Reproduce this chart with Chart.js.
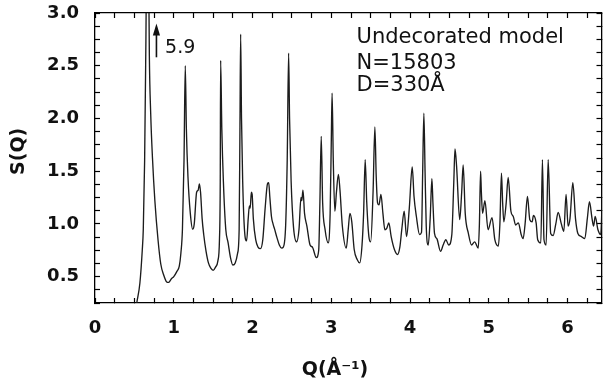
<!DOCTYPE html>
<html>
<head>
<meta charset="utf-8">
<script src="https://cdn.jsdelivr.net/npm/chart.js@4.4.1/dist/chart.umd.min.js"></script>
<style>
  html, body { margin: 0; padding: 0; background: #ffffff; }
  #wrap { width: 603px; height: 385px; }
</style>
</head>
<body>
<div id="wrap"><canvas id="c" width="603" height="385"></canvas></div>
<script>
// ---- Data ----
const qValues = [
  0.53, 0.57, 0.60, 0.613, 0.63, 0.643, 0.655, 0.665, 0.675, 0.69, 0.707, 0.73, 0.76, 0.80, 0.835, 0.87, 0.91, 0.935, 0.97, 1.00,
  1.04, 1.07, 1.09, 1.11, 1.13, 1.146, 1.16, 1.18, 1.21, 1.24, 1.26, 1.29, 1.31, 1.325, 1.34, 1.36, 1.38, 1.41, 1.44, 1.47,
  1.50, 1.53, 1.56, 1.58, 1.59, 1.595, 1.61, 1.63, 1.66, 1.69, 1.72, 1.75, 1.78, 1.81, 1.83, 1.84, 1.849, 1.86, 1.875, 1.90,
  1.925, 1.945, 1.96, 1.97, 1.985, 1.995, 2.01, 2.04, 2.07, 2.10, 2.13, 2.16, 2.19, 2.205, 2.22, 2.24, 2.26, 2.28, 2.31, 2.34,
  2.37, 2.39, 2.42, 2.44, 2.458, 2.47, 2.49, 2.52, 2.56, 2.59, 2.615, 2.625, 2.64, 2.66, 2.69, 2.73, 2.76, 2.81, 2.84, 2.855,
  2.872, 2.89, 2.92, 2.96, 2.985, 3.0, 3.01, 3.025, 3.045, 3.065, 3.09, 3.11, 3.14, 3.19, 3.215, 3.236, 3.26, 3.29, 3.33, 3.36,
  3.39, 3.41, 3.43, 3.45, 3.477, 3.50, 3.53, 3.553, 3.57, 3.587, 3.605, 3.63, 3.655, 3.68, 3.705, 3.73, 3.76, 3.80, 3.84, 3.87,
  3.895, 3.925, 3.955, 3.99, 4.027, 4.05, 4.08, 4.12, 4.145, 4.16, 4.175, 4.19, 4.205, 4.23, 4.255, 4.277, 4.29, 4.31, 4.34, 4.387,
  4.42, 4.454, 4.49, 4.53, 4.555, 4.57, 4.59, 4.63, 4.655, 4.674, 4.70, 4.74, 4.78, 4.82, 4.865, 4.88, 4.895, 4.905, 4.92, 4.95,
  4.99, 5.04, 5.076, 5.12, 5.14, 5.16, 5.175, 5.19, 5.22, 5.245, 5.28, 5.31, 5.34, 5.375, 5.41, 5.435, 5.46, 5.49, 5.52, 5.55,
  5.566, 5.60, 5.62, 5.66, 5.68, 5.70, 5.727, 5.753, 5.785, 5.816, 5.85, 5.88, 5.92, 5.952, 5.98, 6.006, 6.03, 6.066, 6.10, 6.13,
  6.175, 6.218, 6.25, 6.277, 6.31, 6.33, 6.35, 6.385, 6.42, 6.445
];
const sValues = [
  0.25, 0.44, 0.75, 0.95, 1.60, 2.50, 3.60, 5.90, 4.00, 2.60, 2.05, 1.62, 1.22, 0.85, 0.62, 0.52, 0.45, 0.445, 0.48, 0.50,
  0.55, 0.60, 0.72, 0.95, 1.60, 2.50, 1.90, 1.45, 1.10, 0.95, 1.00, 1.30, 1.32, 1.38, 1.30, 1.05, 0.90, 0.74, 0.63, 0.58,
  0.56, 0.59, 0.65, 0.85, 1.40, 2.55, 1.90, 1.40, 0.95, 0.82, 0.68, 0.61, 0.63, 0.72, 0.95, 1.90, 2.80, 2.00, 1.40, 0.92,
  0.84, 1.05, 1.17, 1.15, 1.30, 1.28, 1.05, 0.85, 0.78, 0.765, 0.85, 1.15, 1.38, 1.39, 1.25, 1.07, 1.00, 0.95, 0.87, 0.80,
  0.77, 0.78, 0.98, 1.60, 2.62, 2.00, 1.40, 0.97, 0.83, 0.95, 1.25, 1.22, 1.32, 1.10, 0.98, 0.80, 0.78, 0.68, 0.75, 1.20,
  1.83, 1.20, 0.95, 0.82, 1.10, 1.80, 2.24, 1.60, 1.12, 1.30, 1.47, 1.32, 0.98, 0.77, 0.95, 1.10, 1.02, 0.76, 0.66, 0.63,
  0.80, 1.10, 1.61, 1.20, 0.88, 0.83, 1.30, 1.92, 1.45, 1.20, 1.18, 1.28, 1.10, 0.945, 0.96, 1.01, 0.88, 0.76, 0.71, 0.78,
  0.95, 1.12, 0.88, 1.15, 1.54, 1.26, 1.07, 0.90, 0.92, 1.50, 2.05, 1.50, 0.98, 0.80, 1.05, 1.43, 1.20, 0.91, 0.86, 0.74,
  0.80, 0.85, 0.80, 0.90, 1.40, 1.71, 1.55, 1.04, 1.30, 1.56, 1.10, 0.91, 0.80, 0.83, 0.77, 1.00, 1.50, 1.30, 1.10, 1.22,
  0.945, 1.06, 0.85, 0.79, 1.00, 1.48, 1.20, 1.02, 1.20, 1.44, 1.12, 1.07, 0.99, 1.01, 0.90, 0.86, 1.00, 1.26, 1.04, 1.02,
  1.08, 1.01, 0.85, 0.82, 1.61, 0.85, 0.80, 1.61, 0.91, 0.89, 1.00, 1.11, 1.00, 0.93, 1.28, 0.98, 1.05, 1.39, 1.05, 0.91,
  0.88, 0.86, 1.05, 1.21, 1.05, 0.98, 1.07, 0.945, 0.90, 1.40
];
const xTickValues = [0, 1, 2, 3, 4, 5, 6];
const yTickValues = [0.5, 1.0, 1.5, 2.0, 2.5, 3.0];
const X_RANGE = [0, 6.43];
const Y_RANGE = [0.25, 3.0];
const X_MINOR = 0.25;
const Y_MINOR = 0.125;
const peakValue = 5.9;
const annotationLines = ["Undecorated model", "N=15803", "D=330Å"];

const FONT = "'DejaVu Sans', 'Liberation Sans', sans-serif";
const INK = '#111111';

function minorTicks(range, step) {
  const n = Math.floor((range[1] - range[0]) / step + 1e-6);
  const out = [];
  for (let i = 0; i <= n; i++) out.push({value: range[0] + i * step});
  return out;
}

const tickGrid = {
  display: true,
  drawOnChartArea: false,
  drawTicks: true,
  tickLength: -5,
  tickWidth: 1.2,
  tickColor: '#000000'
};
const frameBorder = { display: true, color: '#000000', width: 1.3 };

// Arrow for the off-scale first peak and the text block
const notesPlugin = {
  id: 'notes',
  afterDraw(chart) {
    const ctx = chart.ctx;
    const xs = chart.scales.x, ys = chart.scales.y;
    ctx.save();
    const ax = xs.getPixelForValue(0.78);
    const yTop = ys.getPixelForValue(2.9);
    const yBot = ys.getPixelForValue(2.58);
    ctx.fillStyle = INK;
    ctx.fillRect(ax - 0.8, yTop + 8, 1.6, yBot - yTop - 8);
    ctx.beginPath();
    ctx.moveTo(ax, yTop);
    ctx.lineTo(ax - 3.6, yTop + 12);
    ctx.lineTo(ax + 3.6, yTop + 12);
    ctx.closePath();
    ctx.fill();
    ctx.font = "19px " + FONT;
    ctx.textBaseline = 'alphabetic';
    ctx.textAlign = 'left';
    ctx.fillText(peakValue.toFixed(1), xs.getPixelForValue(0.89), ys.getPixelForValue(2.62));

    ctx.font = "21px " + FONT;
    const tx = xs.getPixelForValue(3.32);
    const baseS = [2.72, 2.47, 2.26];
    annotationLines.forEach((t, i) => {
      ctx.fillText(t, tx, ys.getPixelForValue(baseS[i]));
    });
    ctx.restore();
  }
};

new Chart(document.getElementById('c'), {
  type: 'scatter',
  data: {
    datasets: [{
      data: qValues.map((q, i) => ({x: q, y: sValues[i]})),
      showLine: true,
      borderColor: '#1c1c1c',
      borderWidth: 1.35,
      pointRadius: 0,
      cubicInterpolationMode: 'monotone',
      fill: false,
      xAxisID: 'x',
      yAxisID: 'y'
    }]
  },
  options: {
    responsive: false,
    animation: false,
    events: [],
    layout: { padding: { top: 13, right: 1.5, left: 0, bottom: 0 } },
    plugins: { legend: { display: false }, tooltip: { enabled: false } },
    scales: {
      x: {
        type: 'linear',
        position: 'bottom',
        min: X_RANGE[0],
        max: X_RANGE[1],
        grid: tickGrid,
        border: frameBorder,
        afterBuildTicks: s => { s.ticks = minorTicks(X_RANGE, X_MINOR); },
        afterFit: s => { s.height = 82; s.paddingLeft = 0; s.paddingRight = 0; },
        ticks: {
          color: INK,
          font: { family: FONT, size: 18, weight: 'bold' },
          padding: 20,
          maxRotation: 0,
          autoSkip: false,
          callback: v => xTickValues.includes(v) ? String(v) : ''
        },
        title: {
          display: true,
          text: 'Q(Å⁻¹)    ',
          color: INK,
          font: { family: FONT, size: 19, weight: 'bold' },
          padding: { top: 0, bottom: 4 }
        }
      },
      x2: {
        type: 'linear',
        position: 'top',
        min: X_RANGE[0],
        max: X_RANGE[1],
        grid: tickGrid,
        border: frameBorder,
        afterBuildTicks: s => { s.ticks = minorTicks(X_RANGE, X_MINOR); },
        afterFit: s => { s.height = 0; s.paddingLeft = 0; s.paddingRight = 0; },
        ticks: { display: false, autoSkip: false }
      },
      y: {
        type: 'linear',
        position: 'left',
        min: Y_RANGE[0],
        max: Y_RANGE[1],
        grid: tickGrid,
        border: frameBorder,
        afterBuildTicks: s => { s.ticks = minorTicks(Y_RANGE, Y_MINOR); },
        afterFit: s => { s.width = 95; s.paddingTop = 0; s.paddingBottom = 0; },
        ticks: {
          color: INK,
          font: { family: FONT, size: 18, weight: 'bold' },
          padding: 21,
          autoSkip: false,
          callback: v => yTickValues.includes(v) ? Number(v).toFixed(1) : ''
        },
        title: {
          display: true,
          text: '  S(Q)',
          color: INK,
          font: { family: FONT, size: 19, weight: 'bold' },
          padding: { top: 8, bottom: 0 }
        }
      },
      y2: {
        type: 'linear',
        position: 'right',
        min: Y_RANGE[0],
        max: Y_RANGE[1],
        grid: tickGrid,
        border: frameBorder,
        afterBuildTicks: s => { s.ticks = minorTicks(Y_RANGE, Y_MINOR); },
        afterFit: s => { s.width = 0; s.paddingTop = 0; s.paddingBottom = 0; },
        ticks: { display: false, autoSkip: false }
      }
    }
  },
  plugins: [notesPlugin]
});
</script>
</body>
</html>
